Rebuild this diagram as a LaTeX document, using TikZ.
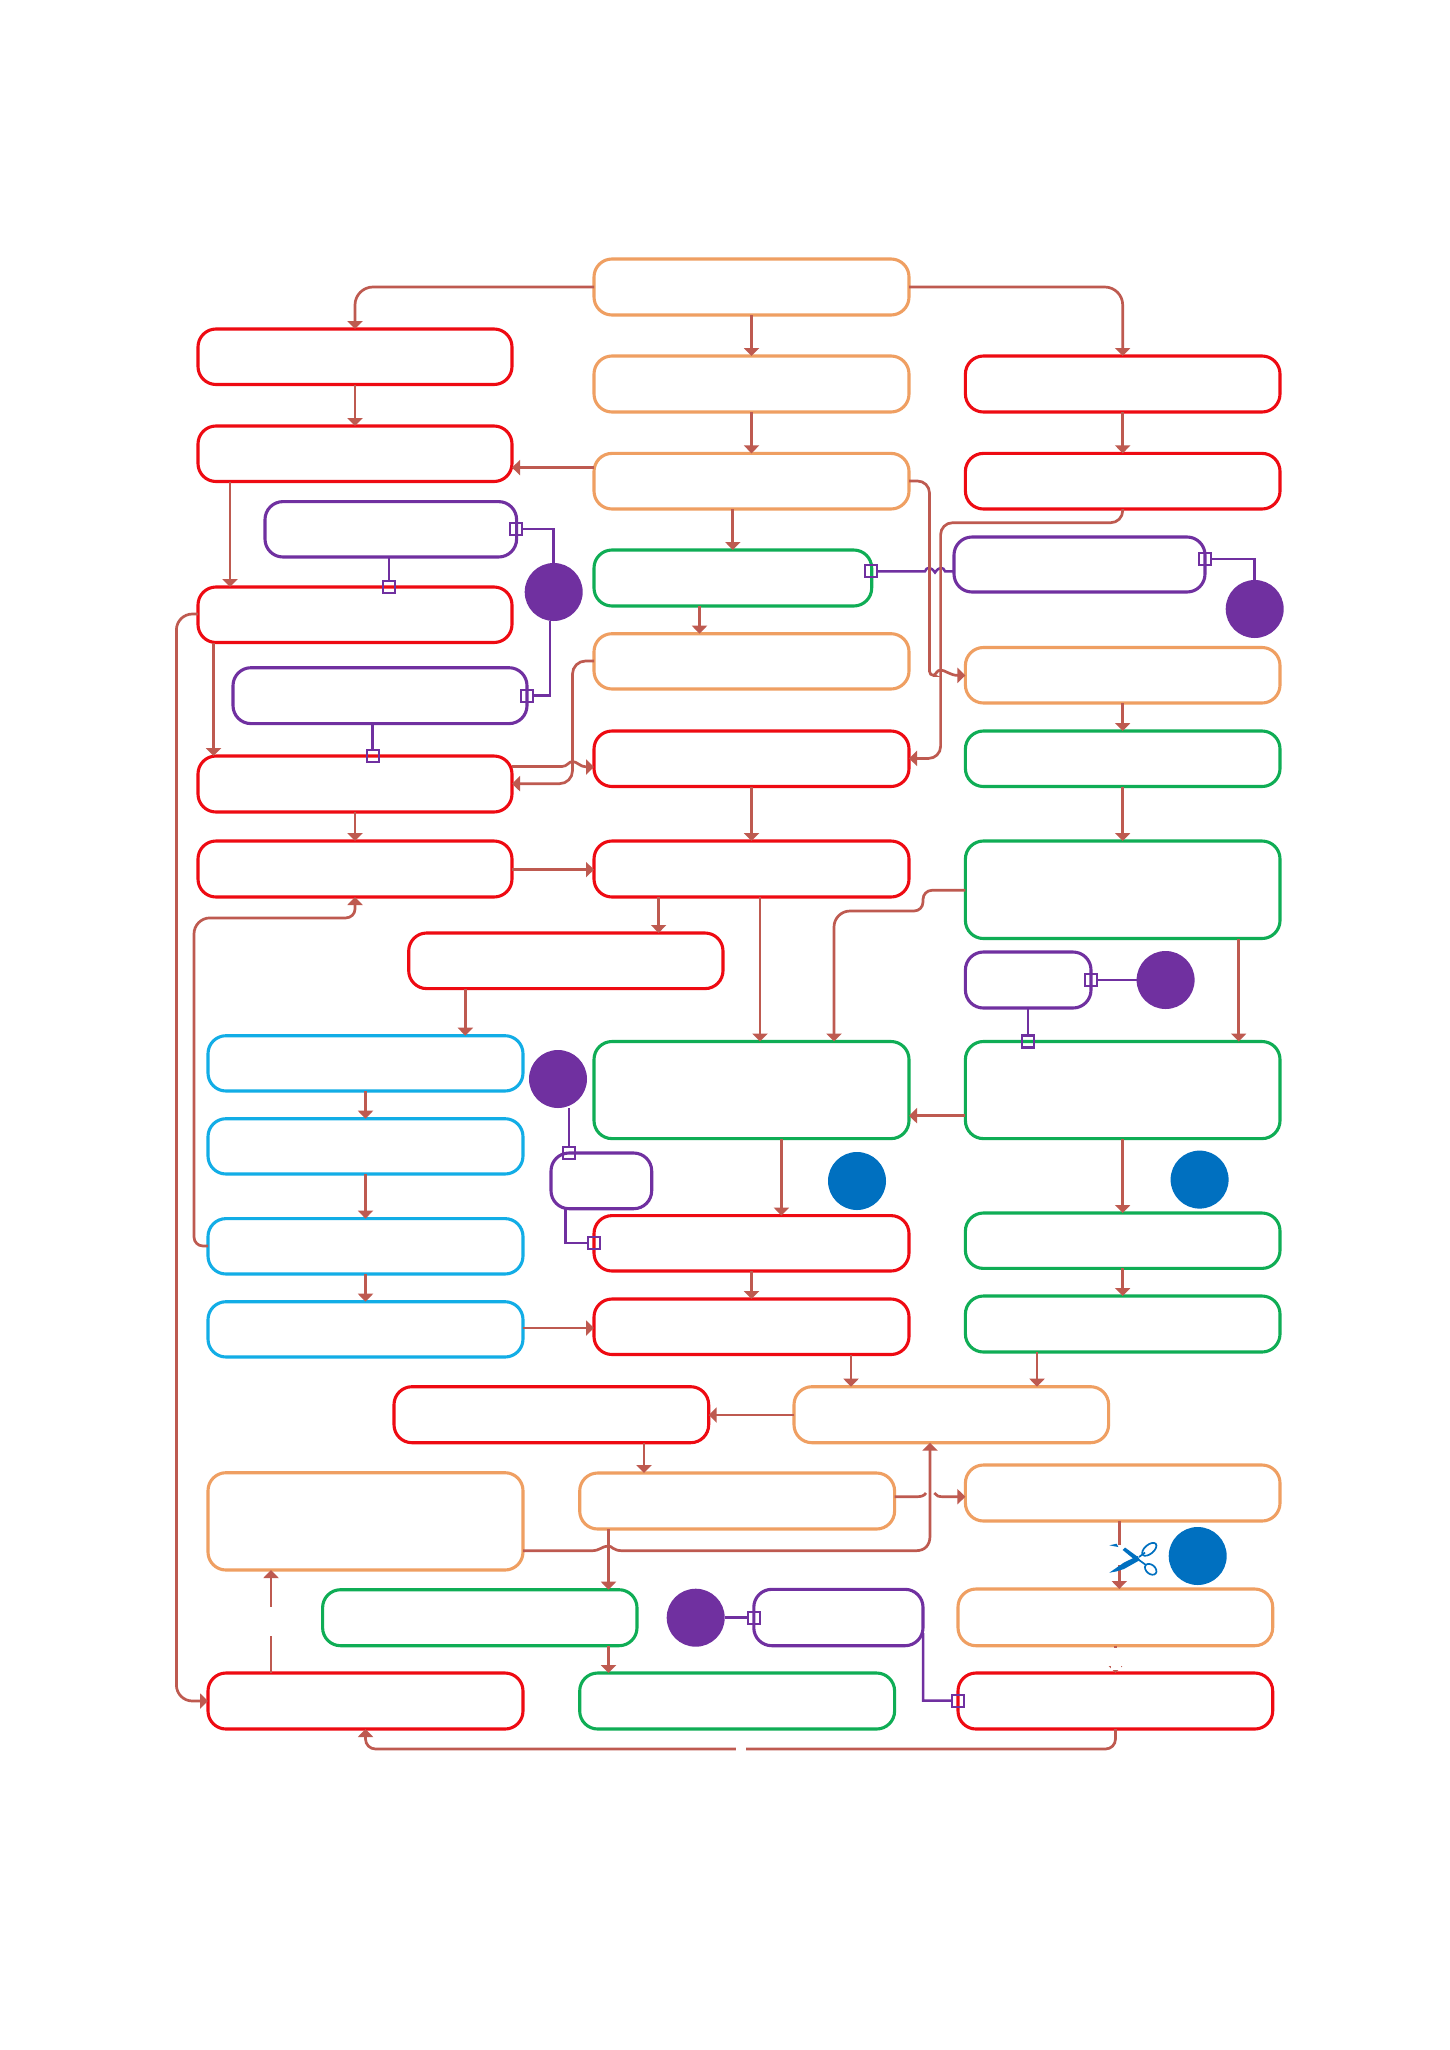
\documentclass[tikz,border=0pt]{standalone}
\usetikzlibrary{arrows.meta}
\definecolor{cred}{HTML}{EE0A12}
\definecolor{corg}{HTML}{EF9F62}
\definecolor{cgrn}{HTML}{0FAD55}
\definecolor{ccyn}{HTML}{12ADE6}
\definecolor{cpur}{HTML}{7030A0}
\definecolor{cblu}{HTML}{0070C0}
\definecolor{cline}{HTML}{BE5A50}
\tikzset{
  boxnode/.style={draw=#1,line width=3.1pt,rounded corners=18pt,inner sep=0pt,outer sep=0pt,shape=rectangle},
  dot/.style={circle,fill=#1,draw=none,minimum size=58pt,inner sep=0pt,outer sep=0pt},
  port/.style={draw=cpur,line width=2.1pt,minimum size=12pt,inner sep=0pt,outer sep=0pt,shape=rectangle},
  conn/.style={draw=cline,line width=2.7pt,rounded corners=#1,-{Triangle[width=15pt,length=8pt]}},
  conn/.default=14pt,
  link/.style={draw=cpur,line width=2.5pt},
  plain/.style={draw=cline,line width=2.7pt,rounded corners=#1},
  plain/.default=14pt
}
\newcommand{\mkbox}[6]{%
  \pgfmathsetmacro\bcx{(#3+#5)/2}\pgfmathsetmacro\bcy{(#4+#6)/2}%
  \pgfmathsetmacro\bw{#5-#3}\pgfmathsetmacro\bh{#6-#4}%
  \node[boxnode=#1,minimum width=\bw pt,minimum height=\bh pt] (#2) at (\bcx,\bcy) {};}
\begin{document}
\begin{tikzpicture}[x=1pt,y=-1pt]
\path[use as bounding box,fill=white] (0,0) rectangle (1449,2050);
% boxes: centre column
\mkbox{corg}{top}{594}{259}{909}{315}
\mkbox{corg}{ob}{594}{356}{909}{412}
\mkbox{corg}{oc}{594}{453.4}{909}{509}
\mkbox{cgrn}{gt}{594}{550}{871.7}{606}
\mkbox{corg}{od}{594}{633.7}{909}{689}
\mkbox{cred}{rc}{594}{731}{909}{786.5}
\mkbox{cred}{rd}{594}{841}{909}{897}
\mkbox{cgrn}{gb}{594}{1041.5}{909}{1138.6}
\mkbox{cred}{re}{594}{1215.6}{909}{1271}
\mkbox{cred}{rf}{594}{1299}{909}{1354.5}
% left column
\mkbox{cred}{la}{198}{329}{512}{384.5}
\mkbox{cred}{lb}{198}{426}{512}{481.5}
\mkbox{cred}{lc}{198}{587}{512}{642.5}
\mkbox{cred}{ld}{198}{756}{512}{812}
\mkbox{cred}{le}{198}{841}{512}{897}
\mkbox{cred}{mid}{408.7}{933}{723}{988.6}
\mkbox{ccyn}{ca}{208}{1035.7}{523}{1091}
\mkbox{ccyn}{cb}{208}{1118.7}{523}{1174}
\mkbox{ccyn}{cc}{208}{1218.6}{523}{1274}
\mkbox{ccyn}{cd}{208}{1301.7}{523}{1357}
% right column
\mkbox{cred}{ra}{965.4}{356}{1280}{412}
\mkbox{cred}{rb}{965.4}{453.4}{1280}{509}
\mkbox{corg}{oa}{965.4}{647.5}{1280}{703}
\mkbox{cgrn}{ga}{965.4}{731}{1280}{786.5}
\mkbox{cgrn}{gc}{965.4}{841}{1280}{938.5}
\mkbox{cgrn}{gd}{965.4}{1041.5}{1280}{1138.6}
\mkbox{cgrn}{ge}{965.4}{1213}{1280}{1268.4}
\mkbox{cgrn}{gf}{965.4}{1296}{1280}{1352}
% purple boxes
\mkbox{cpur}{pa}{265}{501.6}{516.6}{557}
\mkbox{cpur}{pb}{233}{667.7}{527}{723.6}
\mkbox{cpur}{pc}{954}{537}{1205}{592}
\mkbox{cpur}{pd}{965.4}{952}{1091}{1008}
\mkbox{cpur}{pe}{551}{1153}{651.7}{1208.7}
\mkbox{cpur}{pf}{753.8}{1589.3}{923}{1645.7}
% lower part
\mkbox{cred}{bm}{394}{1386.7}{708.7}{1442.7}
\mkbox{corg}{om}{794}{1386.7}{1108.6}{1442.7}
\mkbox{corg}{ol}{208}{1472.7}{523}{1570}
\mkbox{corg}{ok}{579.7}{1473}{894.6}{1529}
\mkbox{corg}{oj}{965.4}{1465}{1280}{1521}
\mkbox{cgrn}{gg}{322.6}{1589.7}{637}{1645.7}
\mkbox{corg}{oi}{958}{1589}{1272.7}{1645.7}
\mkbox{cred}{bl}{208}{1673}{523}{1729}
\mkbox{cgrn}{gh}{579.7}{1673}{894.6}{1729}
\mkbox{cred}{br}{958}{1673}{1272.7}{1729}
% circles
\node[dot=cpur] (da) at (553.7,592) {};
\node[dot=cpur] (db) at (1254.7,609) {};
\node[dot=cpur] (dc) at (1165.6,980) {};
\node[dot=cpur] (dd) at (558,1079) {};
\node[dot=cpur] (de) at (695.7,1617.7) {};
\node[dot=cblu] (df) at (857,1181) {};
\node[dot=cblu] (dg) at (1199.6,1179.6) {};
\node[dot=cblu] (dh) at (1197.7,1556) {};
% ports
\node[port] (qa) at (516,529) {};
\node[port] (qb) at (388.8,587) {};
\node[port] (qc) at (526.6,695.7) {};
\node[port] (qd) at (372.7,756) {};
\node[port] (qe) at (871.3,571.3) {};
\node[port] (qf) at (1205,559) {};
\node[port] (qg) at (1091,980) {};
\node[port] (qh) at (1028,1041.5) {};
\node[port] (qi) at (569,1153.2) {};
\node[port] (qj) at (594,1243) {};
\node[port] (qk) at (754,1617.7) {};
\node[port] (ql) at (958,1700.7) {};
% purple links
\draw[link] (qa.east) -- (553.7,529) -- (553.7,0 |- da.north);
\draw[link] (550,0 |- da.south) -- (550,695.7) -- (qc.east);
\draw[link] (pa.south -| qb) -- (qb.north);
\draw[link] (pb.south -| qd) -- (qd.north);
\draw[link] (qe.east) -- (925,571.3) .. controls (926.5,566.7) and (931,566.5) .. (935,572.5) .. controls (939,566.5) and (943.5,566.7) .. (945,571.3) -- (pc.west |- qe);
\draw[link] (qf.east) -- (db.north |- qf) -- (db.north);
\draw[link] (qg.east) -- (dc.west);
\draw[link] (pd.south -| qh) -- (qh.north);
\draw[link] (569,0 |- dd.south) -- (qi.north);
\draw[link] (565.6,0 |- pe.south) -- (565.6,1243) -- (qj.west);
\draw[link] (de.east) -- (qk.west);
\draw[link] (pf.east |- 0,1633) -- (923,1700.7) -- (ql.west);
% connectors, top block
\draw[conn=18pt] (top.west) -- (la.north |- top.west) -- (la.north);
\draw[conn=18pt] (top.east) -- (1122.7,287) -- (ra.north);
\draw[conn] (top.south) -- (ob.north);
\draw[conn] (ob.south) -- (oc.north);
\draw[conn] (oc.west |- 0,467.6) -- (lb.east |- 0,467.6);
\draw[conn] (la.south) -- (lb.north);
\draw[conn] (230,0 |- lb.south) -- (230,0 |- lc.north);
\draw[conn] (732.8,0 |- oc.south) -- (732.8,0 |- gt.north);
\draw[conn] (699.5,0 |- gt.south) -- (699.5,0 |- od.north);
\draw[conn=13pt] (od.west |- 0,661) -- (572.5,661) -- (572.5,783.7) -- (ld.east |- 0,783.7);
\draw[-{Triangle[width=15pt,length=8pt]},draw=cline,line width=2.7pt] (ld.east |- 0,766.5) -- (562,766.5) .. controls (567,766.5) and (569,761.5) .. (572.5,761.5) .. controls (577,761.5) and (580,767) .. (587,767) -- (rc.west |- 0,767);
\draw[conn] (213.5,0 |- lc.south) -- (213.5,0 |- ld.north);
\draw[conn=16pt] (lc.west |- 0,614) -- (176.4,614) -- (176.4,1701) -- (bl.west |- 0,1701);
\draw[conn] (ra.south) -- (rb.north);
\draw[conn=12pt] (rb.south) -- (1122.7,522.7) -- (940.6,522.7) -- (940.6,758.4) -- (rc.east |- 0,758.4);
\draw[plain=12pt] (oc.east |- 0,481) -- (929.5,481) [rounded corners=4pt] -- (929.5,675.4) -- (933,675.4);
\draw[-{Triangle[width=15pt,length=8pt]},draw=cline,line width=2.7pt] (933,675.4) .. controls (936,675.4) and (936.5,670) .. (940.6,670) .. controls (945,670) and (950,675.4) .. (958,675.4) -- (oa.west |- 0,675.4);
\draw[conn] (oa.south) -- (ga.north);
\draw[conn] (ga.south) -- (gc.north);
\draw[conn] (rc.south) -- (rd.north);
\draw[conn] (ld.south) -- (le.north);
\draw[conn] (le.east |- 0,869.6) -- (rd.west |- 0,869.6);
\draw[conn] (658.6,0 |- rd.south) -- (658.6,0 |- mid.north);
\draw[conn] (760,0 |- rd.south) -- (760,0 |- gb.north);
\draw[conn=9pt] (gc.west |- 0,890.3) -- (923,890.3) -- (923,911) [rounded corners=16pt] -- (834,911) -- (834,0 |- gb.north);
\draw[conn] (1238.7,0 |- gc.south) -- (1238.7,0 |- gd.north);
\draw[conn] (gd.west |- 0,1115.7) -- (gb.east |- 0,1115.7);
\draw[conn] (781.4,0 |- gb.south) -- (781.4,0 |- re.north);
\draw[conn] (gd.south) -- (ge.north);
\draw[conn] (ge.south) -- (gf.north);
\draw[conn] (465.3,0 |- mid.south) -- (465.3,0 |- ca.north);
\draw[conn] (ca.south) -- (cb.north);
\draw[conn] (cb.south) -- (cc.north);
\draw[conn] (cc.south) -- (cd.north);
\draw[conn=9pt] (cc.west |- 0,1246) -- (194,1246) [rounded corners=16pt] -- (194,917.9) [rounded corners=9pt] -- (355,917.9) -- (le.south);
\draw[conn] (cd.east |- 0,1328) -- (rf.west |- 0,1328);
\draw[conn] (re.south) -- (rf.north);
\draw[conn] (851,0 |- rf.south) -- (851,0 |- om.north);
\draw[conn] (1037,0 |- gf.south) -- (1037,0 |- om.north);
\draw[conn] (om.west |- 0,1415) -- (bm.east |- 0,1415);
\draw[conn] (644,0 |- bm.south) -- (644,0 |- ok.north);
\draw[-{Triangle[width=15pt,length=8pt]},draw=cline,line width=2.7pt] (ol.east |- 0,1550.7) -- (592,1550.7) .. controls (600,1550.7) and (602,1546) .. (608.5,1546) .. controls (612,1546) and (613,1550.7) .. (622,1550.7) -- (916,1550.7) .. controls (925,1550.7) and (930,1545) .. (930,1536) -- (930,0 |- om.south);
\draw[-{Triangle[width=15pt,length=8pt]},draw=cline,line width=2.7pt] (ok.east |- 0,1496.7) -- (916.7,1496.7) .. controls (921,1496.7) and (924,1496) .. (926,1493) (934.3,1493) .. controls (936,1496) and (939,1496.7) .. (943,1496.7) -- (oj.west |- 0,1496.7);
\draw[conn] (608.5,0 |- ok.south) -- (608.5,0 |- gg.north);
\draw[conn] (608.5,0 |- gg.south) -- (608.5,0 |- gh.north);
\draw[conn] (271,0 |- bl.north) -- (271,0 |- ol.south);
\fill[white] (262,1606.7) rectangle (280,1636);
\draw[conn] (1119.3,0 |- oj.south) -- (1119.3,0 |- oi.north);
\fill[white] (1112,1545) rectangle (1127,1565);
\draw[conn] (oi.south -| 1115.5,0) -- (br.north -| 1115.5,0);
\fill[white] (1105,1648.2) rectangle (1126,1666);
\fill[white] (1110.5,1665) rectangle (1120.5,1670);
\draw[conn=10pt] (1115.5,0 |- br.south) -- (1115.5,1749) -- (365.5,1749) -- (365.5,0 |- bl.south);
\fill[white] (735.5,1744) rectangle (746,1754);
% scissors
\fill[cblu] (1109.3,1572.7) -- (1124,1562.5) -- (1137.5,1556) -- (1140,1560) -- (1124,1569) -- (1116,1571.5) -- cycle;
\fill[cblu] (1122.7,1550) -- (1125,1547.5) -- (1138,1557) -- (1135.5,1560.5) -- cycle;
\fill[cblu] (1109.3,1545.3) -- (1116.7,1543.7) -- (1118.3,1547) -- cycle;
\draw[cblu,line width=1.7pt] (1139,1557) -- (1145,1552.5);
\draw[cblu,line width=1.7pt] (1139,1560) -- (1146,1565);
\draw[cblu,line width=1.7pt] (1149.3,1549.3) ellipse [x radius=8.5,y radius=4.5,rotate=40];
\draw[cblu,line width=1.7pt] (1150.7,1569.3) ellipse [x radius=6.5,y radius=4.5,rotate=-40];
\end{tikzpicture}
\end{document}
